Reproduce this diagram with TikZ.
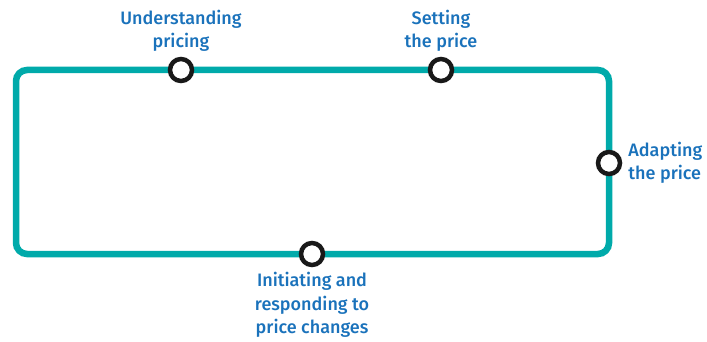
\documentclass[tikz,border=0pt]{standalone}
\usepackage{fontspec}
\setmainfont{Fira Sans}[UprightFont={* Medium}]
\usepackage{xcolor}
\usetikzlibrary{positioning}

\definecolor{loopteal}{HTML}{00AAAA}
\definecolor{labelblue}{HTML}{1A72BB}

\begin{document}
\begin{tikzpicture}[
    x=1pt, y=-1pt,
    node distance=4pt,
    stop/.style={circle, draw=black!90, line width=4.5pt, fill=white,
                 minimum size=22pt, inner sep=0pt},
    lbl/.style={text=labelblue, font=\fontsize{18}{23.5}\selectfont,
                align=center, inner sep=0pt}
]
\useasboundingbox (0,0) rectangle (707,342);
\draw[loopteal, line width=6.5pt, rounded corners=11pt] (16,70) rectangle (609,254);
\node[stop] (underst) at (181,70)  {};
\node[stop] (setting) at (441,70)  {};
\node[stop] (adapt)   at (609,163) {};
\node[stop] (change)  at (312,254) {};
\node[lbl, above=5pt of underst] {Understanding\\pricing};
\node[lbl, above=5pt of setting] {Setting\\the price};
\node[lbl, right=6pt of adapt, align=left] {Adapting\\the price};
\node[lbl, below=5pt of change] {Initiating and\\responding to\\price changes};
\end{tikzpicture}
\end{document}
